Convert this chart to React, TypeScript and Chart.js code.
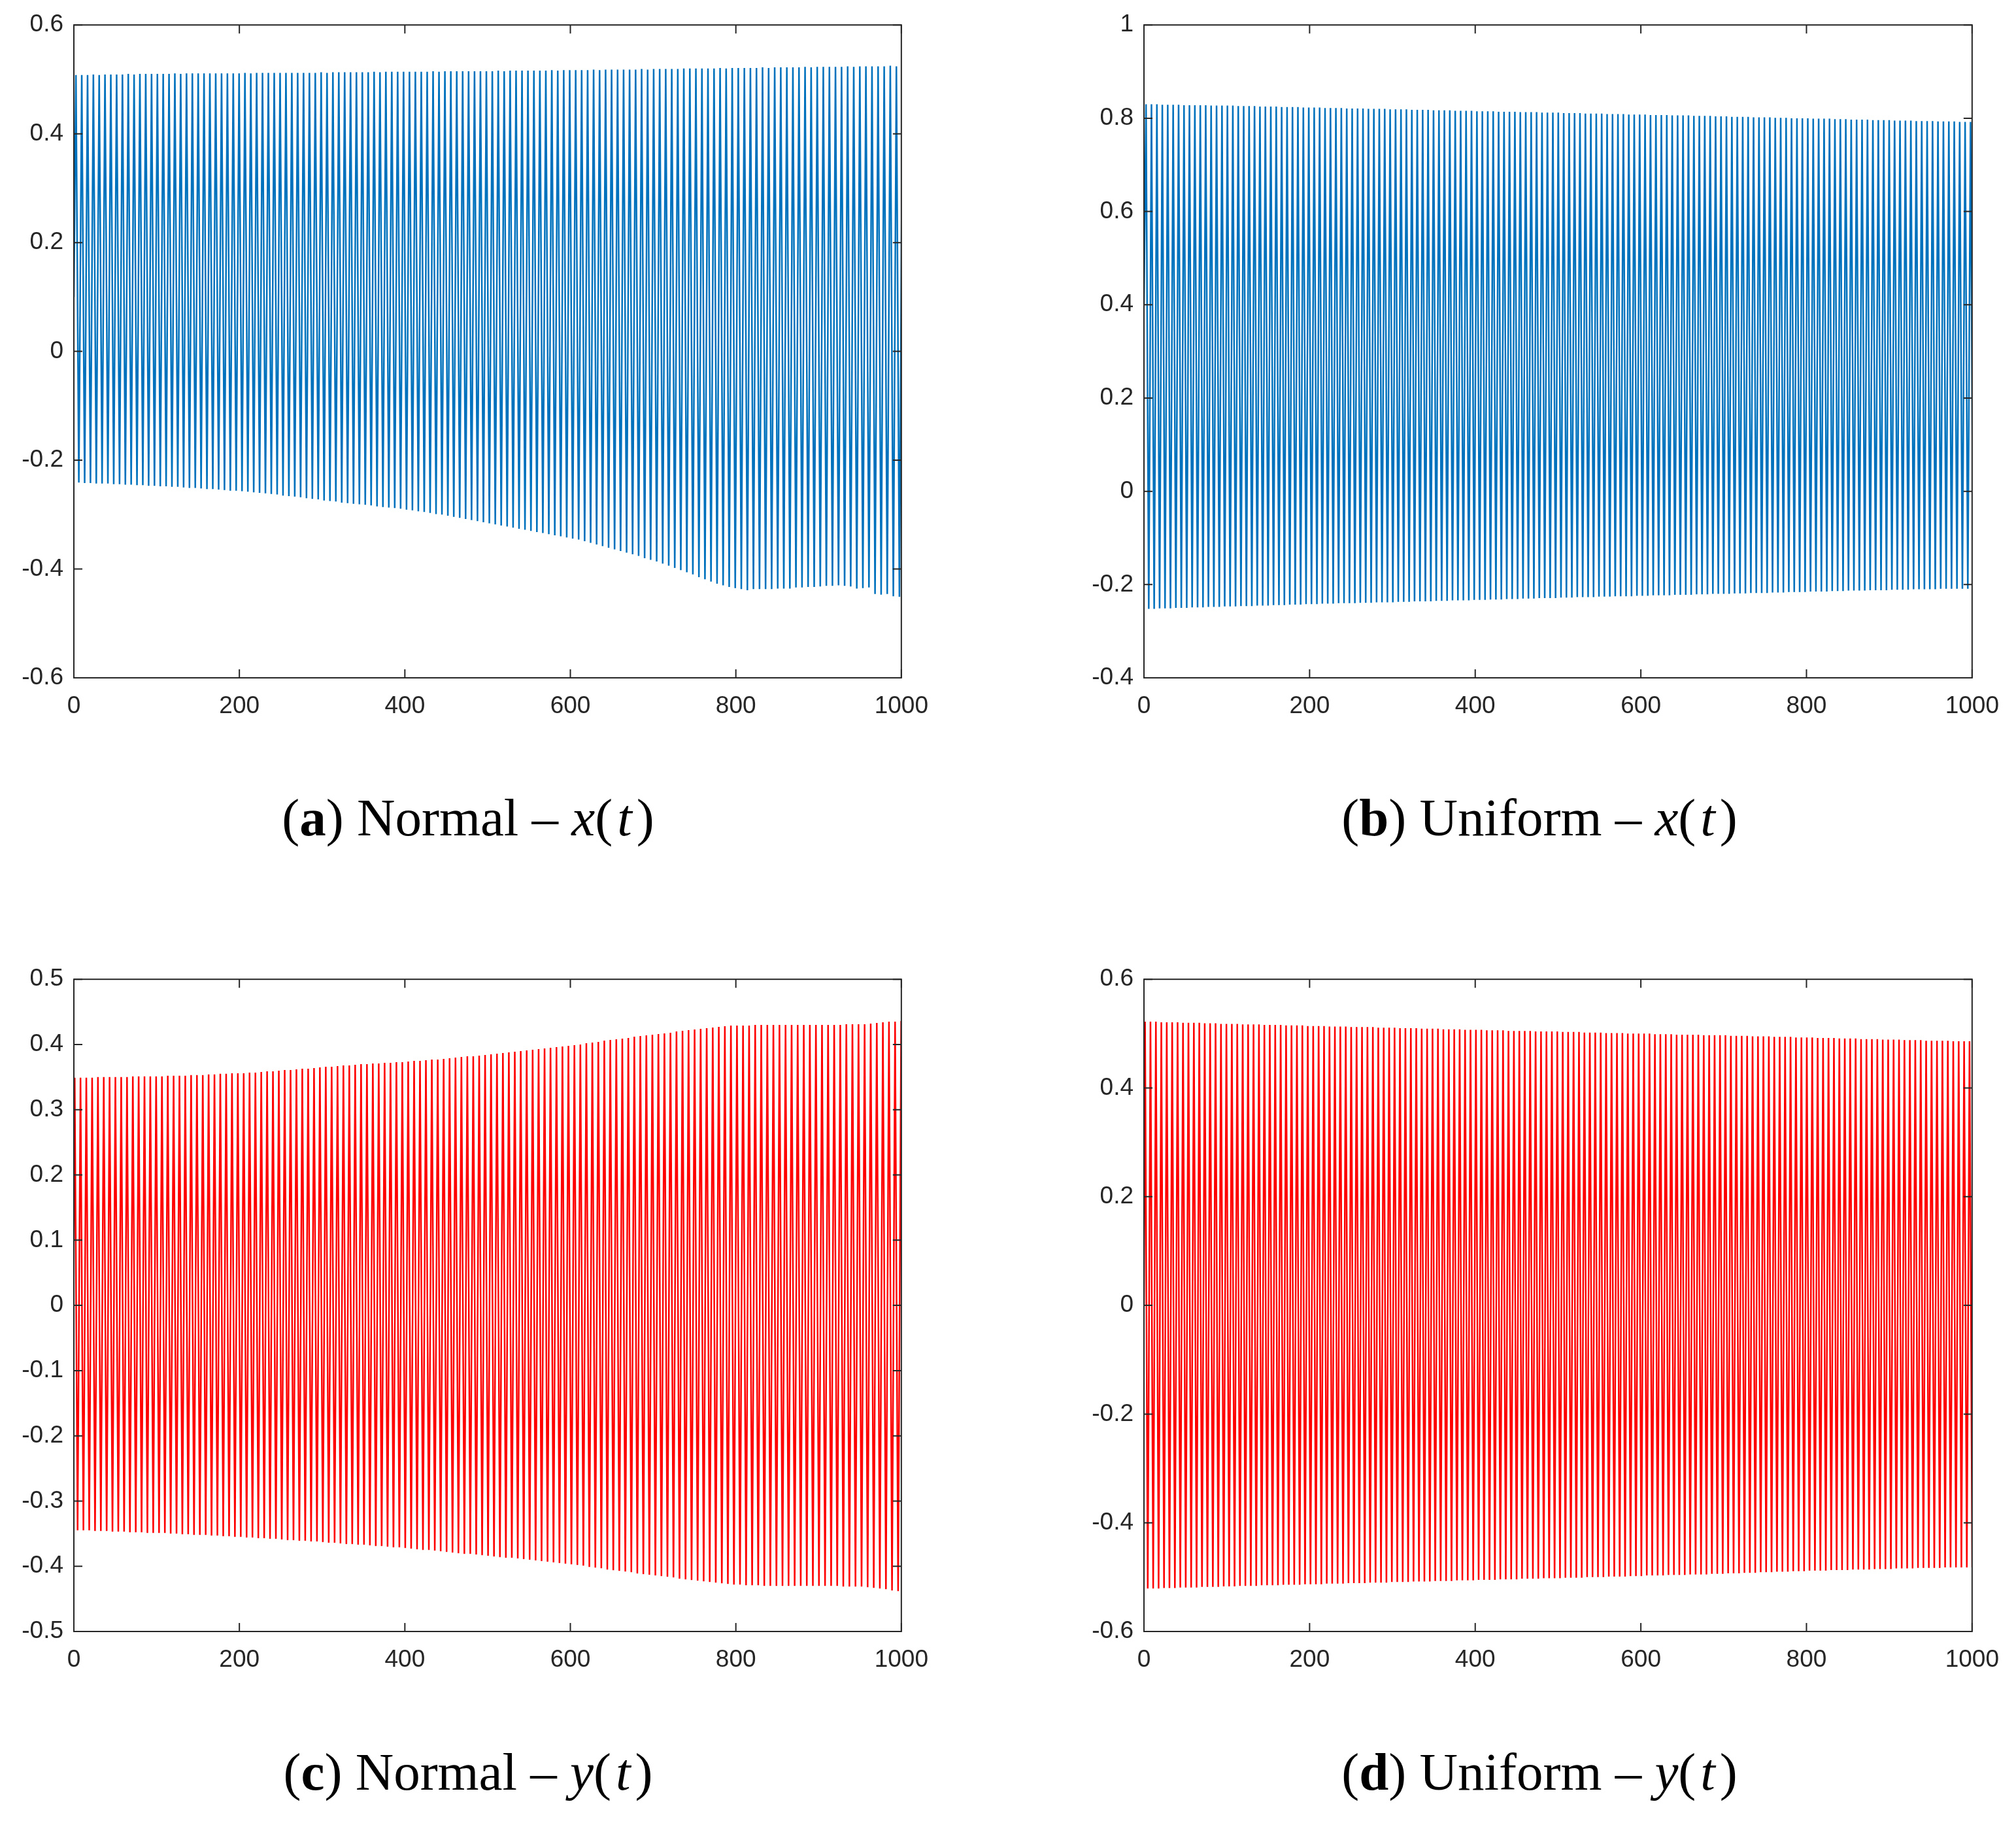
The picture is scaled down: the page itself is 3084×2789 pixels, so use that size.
import React, { useEffect, useRef } from "react";
import { Chart, registerables } from "chart.js";

Chart.register(...registerables);

// ---------------- data ----------------
// Tick values
const xTicks = [0, 200, 400, 600, 800, 1000];
const yTicksNormalX = [-0.6, -0.4, -0.2, 0, 0.2, 0.4, 0.6];
const yTicksUniformX = [-0.4, -0.2, 0, 0.2, 0.4, 0.6, 0.8, 1];
const yTicksNormalY = [-0.5, -0.4, -0.3, -0.2, -0.1, 0, 0.1, 0.2, 0.3, 0.4, 0.5];
const yTicksUniformY = [-0.6, -0.4, -0.2, 0, 0.2, 0.4, 0.6];

// Oscillation period (time units per cycle) read at t = 0,100,...,1000
const normalPeriodT = [0, 100, 200, 300, 400, 500, 600, 700, 800, 900, 1000];
const normalPeriodV = [7.02, 7.04, 7.07, 7.1, 7.13, 7.17, 7.22, 7.28, 7.33, 7.35, 7.37];
const uniformPeriodT = [0, 1000];
const uniformPeriodV = [6.55, 6.55];

// Start value and time of first maximum
const normalXStart = [0.1, 2.5];
const uniformXStart = [0.4, 2.5];
const normalYStart = [0.1, 1.0];
const uniformYStart = [0.0, 1.3];

// (a) Normal - x(t): per-cycle maxima and minima
const normalXPeaks = [
  0.508, 0.508, 0.508, 0.509, 0.508, 0.509, 0.509, 0.509, 0.509, 0.510,
  0.509, 0.510, 0.510, 0.510, 0.510, 0.510, 0.510, 0.511, 0.510, 0.511,
  0.511, 0.511, 0.511, 0.511, 0.511, 0.511, 0.511, 0.511, 0.511, 0.512,
  0.511, 0.512, 0.512, 0.512, 0.512, 0.512, 0.512, 0.512, 0.512, 0.512,
  0.512, 0.512, 0.513, 0.512, 0.513, 0.513, 0.513, 0.513, 0.513, 0.513,
  0.513, 0.514, 0.513, 0.514, 0.514, 0.514, 0.514, 0.514, 0.514, 0.514,
  0.514, 0.515, 0.514, 0.515, 0.515, 0.515, 0.515, 0.515, 0.515, 0.515,
  0.515, 0.515, 0.516, 0.515, 0.516, 0.516, 0.516, 0.516, 0.516, 0.516,
  0.516, 0.517, 0.516, 0.517, 0.517, 0.517, 0.517, 0.517, 0.518, 0.517,
  0.518, 0.518, 0.518, 0.518, 0.518, 0.518, 0.519, 0.518, 0.519, 0.519,
  0.519, 0.519, 0.519, 0.520, 0.520, 0.520, 0.520, 0.520, 0.520, 0.521,
  0.520, 0.521, 0.521, 0.521, 0.521, 0.521, 0.522, 0.521, 0.522, 0.522,
  0.522, 0.522, 0.522, 0.523, 0.522, 0.523, 0.523, 0.523, 0.523, 0.523,
  0.524, 0.523, 0.524, 0.524, 0.524, 0.524, 0.524, 0.525, 0.524, 0.525,
  0.525,
];
const normalXTroughs = [
  -0.241, -0.242, -0.242, -0.243, -0.243, -0.243, -0.244,
  -0.244, -0.245, -0.245, -0.246, -0.246, -0.247, -0.247,
  -0.248, -0.248, -0.249, -0.249, -0.250, -0.251, -0.251,
  -0.252, -0.253, -0.253, -0.254, -0.255, -0.256, -0.256,
  -0.257, -0.258, -0.259, -0.260, -0.261, -0.262, -0.263,
  -0.265, -0.266, -0.267, -0.268, -0.270, -0.271, -0.272,
  -0.274, -0.275, -0.276, -0.278, -0.279, -0.280, -0.281, -0.282,
  -0.283, -0.285, -0.286, -0.287, -0.288, -0.289, -0.291,
  -0.292, -0.294, -0.295, -0.297, -0.299, -0.300, -0.302,
  -0.304, -0.306, -0.308, -0.310, -0.312, -0.314, -0.316,
  -0.318, -0.320, -0.322, -0.324, -0.326, -0.328, -0.330,
  -0.332, -0.334, -0.336, -0.338, -0.340, -0.342, -0.344,
  -0.346, -0.349, -0.352, -0.355, -0.358, -0.361,
  -0.364, -0.367, -0.370, -0.373, -0.376, -0.380, -0.383,
  -0.386, -0.390, -0.394, -0.398, -0.402, -0.406, -0.410,
  -0.415, -0.419, -0.423, -0.427, -0.430, -0.433, -0.435,
  -0.437, -0.439, -0.437, -0.437, -0.437, -0.437, -0.436,
  -0.436, -0.436, -0.434, -0.434, -0.433, -0.433, -0.432,
  -0.431, -0.431, -0.430, -0.431, -0.432, -0.436, -0.435,
  -0.434, -0.446, -0.447, -0.446, -0.450, -0.451, -0.456,
  -0.458,
];

// (b) Uniform - x(t)
const uniformXPeaks = [
  0.830, 0.830, 0.830, 0.829, 0.829, 0.829, 0.829, 0.828, 0.828, 0.828,
  0.828, 0.828, 0.827, 0.827, 0.827, 0.827, 0.827, 0.826, 0.826, 0.826,
  0.826, 0.825, 0.825, 0.825, 0.825, 0.824, 0.824, 0.824, 0.824, 0.823,
  0.823, 0.823, 0.823, 0.822, 0.822, 0.822, 0.822, 0.821, 0.821, 0.821,
  0.821, 0.820, 0.820, 0.820, 0.820, 0.819, 0.819, 0.819, 0.819, 0.818,
  0.818, 0.818, 0.818, 0.817, 0.817, 0.817, 0.817, 0.816, 0.816, 0.816,
  0.816, 0.815, 0.815, 0.815, 0.815, 0.814, 0.814, 0.814, 0.814, 0.813,
  0.813, 0.813, 0.813, 0.812, 0.812, 0.812, 0.812, 0.811, 0.811, 0.811,
  0.811, 0.810, 0.810, 0.810, 0.810, 0.809, 0.809, 0.809, 0.809, 0.808,
  0.808, 0.808, 0.808, 0.807, 0.807, 0.807, 0.807, 0.806, 0.806, 0.806,
  0.806, 0.805, 0.805, 0.805, 0.805, 0.804, 0.804, 0.804, 0.803, 0.803,
  0.803, 0.803, 0.802, 0.802, 0.802, 0.802, 0.801, 0.801, 0.801, 0.800,
  0.800, 0.800, 0.800, 0.799, 0.799, 0.799, 0.799, 0.798, 0.798, 0.798,
  0.797, 0.797, 0.797, 0.797, 0.796, 0.796, 0.796, 0.796, 0.795, 0.795,
  0.795, 0.795, 0.794, 0.794, 0.794, 0.794, 0.793, 0.793, 0.793, 0.793,
  0.792, 0.792, 0.792, 0.792,
];
const uniformXTroughs = [
  -0.252, -0.252, -0.251, -0.251, -0.251, -0.250, -0.250, -0.250, -0.249, -0.249,
  -0.249, -0.248, -0.248, -0.248, -0.247, -0.247, -0.247, -0.246, -0.246, -0.246,
  -0.245, -0.245, -0.245, -0.244, -0.244, -0.244, -0.243, -0.243, -0.243, -0.242,
  -0.242, -0.242, -0.241, -0.241, -0.241, -0.240, -0.240, -0.240, -0.240, -0.239,
  -0.239, -0.239, -0.238, -0.238, -0.238, -0.238, -0.237, -0.237, -0.237, -0.236,
  -0.236, -0.236, -0.236, -0.235, -0.235, -0.235, -0.234, -0.234, -0.234, -0.234,
  -0.233, -0.233, -0.233, -0.232, -0.232, -0.232, -0.231, -0.231, -0.231, -0.230,
  -0.230, -0.230, -0.229, -0.229, -0.229, -0.229, -0.228, -0.228, -0.228, -0.227,
  -0.227, -0.227, -0.227, -0.226, -0.226, -0.226, -0.225, -0.225, -0.225, -0.225,
  -0.224, -0.224, -0.224, -0.223, -0.223, -0.223, -0.223, -0.222, -0.222, -0.222,
  -0.222, -0.221, -0.221, -0.221, -0.220, -0.220, -0.220, -0.220, -0.219, -0.219,
  -0.219, -0.218, -0.218, -0.218, -0.218, -0.217, -0.217, -0.217, -0.216, -0.216,
  -0.216, -0.216, -0.215, -0.215, -0.215, -0.215, -0.214, -0.214, -0.214, -0.213,
  -0.213, -0.213, -0.213, -0.212, -0.212, -0.212, -0.212, -0.211, -0.211, -0.211,
  -0.211, -0.210, -0.210, -0.210, -0.210, -0.210, -0.209, -0.209, -0.209, -0.209,
  -0.209, -0.209, -0.209, -0.209,
];

// (c) Normal - y(t)
const normalYPeaks = [
  0.349, 0.349, 0.349, 0.349, 0.350, 0.350, 0.350,
  0.350, 0.350, 0.350, 0.351, 0.351, 0.351, 0.351,
  0.351, 0.351, 0.352, 0.352, 0.352, 0.352, 0.353,
  0.353, 0.353, 0.354, 0.354, 0.355, 0.355, 0.356,
  0.356, 0.356, 0.357, 0.357, 0.358, 0.359, 0.359,
  0.360, 0.361, 0.361, 0.362, 0.363, 0.363, 0.364,
  0.365, 0.366, 0.366, 0.367, 0.368, 0.368, 0.369, 0.370,
  0.370, 0.371, 0.371, 0.372, 0.372, 0.373, 0.373,
  0.374, 0.375, 0.375, 0.376, 0.377, 0.377, 0.378,
  0.379, 0.380, 0.381, 0.382, 0.382, 0.383, 0.384,
  0.385, 0.386, 0.387, 0.388, 0.389, 0.390, 0.391,
  0.392, 0.393, 0.394, 0.395, 0.396, 0.397, 0.398,
  0.399, 0.400, 0.402, 0.403, 0.404, 0.406,
  0.407, 0.408, 0.409, 0.410, 0.412, 0.413, 0.414,
  0.415, 0.416, 0.417, 0.418, 0.420, 0.421, 0.422,
  0.423, 0.424, 0.425, 0.426, 0.427, 0.428, 0.429,
  0.429, 0.429, 0.429, 0.430, 0.430, 0.430, 0.430,
  0.430, 0.430, 0.430, 0.430, 0.430, 0.430, 0.430,
  0.430, 0.430, 0.430, 0.430, 0.431, 0.431, 0.431,
  0.431, 0.432, 0.433, 0.434, 0.435, 0.435, 0.436, 0.437,
];
const normalYTroughs = [
  -0.345, -0.345, -0.345, -0.346, -0.346, -0.346, -0.347,
  -0.347, -0.347, -0.348, -0.348, -0.348, -0.349, -0.349,
  -0.349, -0.349, -0.350, -0.350, -0.351, -0.351, -0.352,
  -0.352, -0.352, -0.353, -0.353, -0.354, -0.354, -0.355,
  -0.355, -0.356, -0.356, -0.357, -0.357, -0.358, -0.358,
  -0.359, -0.360, -0.360, -0.361, -0.361, -0.362, -0.362,
  -0.363, -0.364, -0.364, -0.365, -0.366, -0.366, -0.367, -0.367,
  -0.368, -0.369, -0.369, -0.370, -0.371, -0.371, -0.372,
  -0.373, -0.374, -0.375, -0.375, -0.376, -0.377, -0.378,
  -0.379, -0.380, -0.381, -0.381, -0.382, -0.383, -0.384,
  -0.385, -0.386, -0.387, -0.387, -0.388, -0.389, -0.390,
  -0.391, -0.392, -0.393, -0.394, -0.395, -0.396, -0.397,
  -0.398, -0.399, -0.401, -0.402, -0.403, -0.405,
  -0.406, -0.407, -0.408, -0.409, -0.411, -0.412, -0.413,
  -0.414, -0.415, -0.416, -0.417, -0.419, -0.420, -0.421,
  -0.422, -0.423, -0.424, -0.425, -0.426, -0.427, -0.428,
  -0.428, -0.429, -0.429, -0.429, -0.430, -0.430, -0.430,
  -0.430, -0.430, -0.430, -0.430, -0.430, -0.430, -0.430,
  -0.430, -0.430, -0.430, -0.431, -0.431, -0.431, -0.431,
  -0.432, -0.433, -0.434, -0.435, -0.437, -0.438, -0.440, -0.441,
];

// (d) Uniform - y(t)
const uniformYPeaks = [
  0.522, 0.522, 0.522, 0.521, 0.521, 0.521, 0.521, 0.520, 0.520, 0.520,
  0.520, 0.519, 0.519, 0.519, 0.518, 0.518, 0.518, 0.518, 0.517, 0.517,
  0.517, 0.517, 0.516, 0.516, 0.516, 0.516, 0.515, 0.515, 0.515, 0.515,
  0.514, 0.514, 0.514, 0.514, 0.513, 0.513, 0.513, 0.513, 0.512, 0.512,
  0.512, 0.512, 0.512, 0.511, 0.511, 0.511, 0.511, 0.510, 0.510, 0.510,
  0.510, 0.509, 0.509, 0.509, 0.509, 0.508, 0.508, 0.508, 0.508, 0.507,
  0.507, 0.507, 0.507, 0.506, 0.506, 0.506, 0.506, 0.505, 0.505, 0.505,
  0.505, 0.505, 0.504, 0.504, 0.504, 0.504, 0.504, 0.503, 0.503, 0.503,
  0.503, 0.502, 0.502, 0.502, 0.502, 0.501, 0.501, 0.501, 0.501, 0.500,
  0.500, 0.500, 0.500, 0.500, 0.499, 0.499, 0.499, 0.499, 0.498, 0.498,
  0.498, 0.498, 0.498, 0.497, 0.497, 0.497, 0.497, 0.497, 0.496, 0.496,
  0.496, 0.496, 0.495, 0.495, 0.495, 0.495, 0.494, 0.494, 0.494, 0.494,
  0.493, 0.493, 0.493, 0.493, 0.492, 0.492, 0.492, 0.492, 0.491, 0.491,
  0.491, 0.491, 0.490, 0.490, 0.490, 0.490, 0.489, 0.489, 0.489, 0.489,
  0.488, 0.488, 0.488, 0.488, 0.487, 0.487, 0.487, 0.487, 0.487, 0.486,
  0.486, 0.486, 0.486, 0.486,
];
const uniformYTroughs = [
  -0.521, -0.521, -0.521, -0.520, -0.520, -0.520, -0.519, -0.519, -0.519, -0.519,
  -0.518, -0.518, -0.518, -0.518, -0.517, -0.517, -0.517, -0.516, -0.516, -0.516,
  -0.516, -0.515, -0.515, -0.515, -0.515, -0.514, -0.514, -0.514, -0.514, -0.513,
  -0.513, -0.513, -0.513, -0.512, -0.512, -0.512, -0.512, -0.511, -0.511, -0.511,
  -0.511, -0.510, -0.510, -0.510, -0.510, -0.509, -0.509, -0.509, -0.509, -0.508,
  -0.508, -0.508, -0.508, -0.507, -0.507, -0.507, -0.507, -0.506, -0.506, -0.506,
  -0.506, -0.505, -0.505, -0.505, -0.505, -0.504, -0.504, -0.504, -0.504, -0.503,
  -0.503, -0.503, -0.503, -0.502, -0.502, -0.502, -0.502, -0.501, -0.501, -0.501,
  -0.501, -0.500, -0.500, -0.500, -0.500, -0.499, -0.499, -0.499, -0.499, -0.498,
  -0.498, -0.498, -0.497, -0.497, -0.497, -0.497, -0.496, -0.496, -0.496, -0.496,
  -0.495, -0.495, -0.495, -0.495, -0.494, -0.494, -0.494, -0.493, -0.493, -0.493,
  -0.492, -0.492, -0.492, -0.491, -0.491, -0.491, -0.490, -0.490, -0.490, -0.489,
  -0.489, -0.489, -0.488, -0.488, -0.488, -0.488, -0.487, -0.487, -0.487, -0.487,
  -0.486, -0.486, -0.486, -0.486, -0.485, -0.485, -0.485, -0.485, -0.484, -0.484,
  -0.484, -0.484, -0.483, -0.483, -0.483, -0.483, -0.483, -0.482, -0.482, -0.482,
  -0.482, -0.482, -0.482, -0.482,
];

// ---------------- building the series ----------------
function periodAt(t: number, kt: number[], kv: number[]): number {
  if (t <= kt[0]) return kv[0];
  for (let i = 1; i < kt.length; i++) {
    if (t <= kt[i]) {
      const f = (t - kt[i - 1]) / (kt[i] - kt[i - 1]);
      return kv[i - 1] + f * (kv[i] - kv[i - 1]);
    }
  }
  return kv[kv.length - 1];
}

function buildSeries(
  start: number[],
  peaks: number[],
  troughs: number[],
  kt: number[],
  kv: number[]
) {
  const pts: { x: number; y: number }[] = [{ x: 0, y: start[0] }];
  let t = start[1];
  const n = Math.min(peaks.length, troughs.length);
  for (let i = 0; i < n; i++) {
    const p = periodAt(t, kt, kv);
    pts.push({ x: t, y: peaks[i] });
    pts.push({ x: t + p / 2, y: troughs[i] });
    t += p;
  }
  return pts;
}

const BLUE = "#0072BD";
const RED = "#FF0000";
const AXIS = "#262626";

const framePlugin = {
  id: "matlabFrame",
  afterDraw(chart: any) {
    const { ctx, chartArea: a, scales } = chart;
    const L = 13;
    ctx.save();
    ctx.strokeStyle = AXIS;
    ctx.lineWidth = 2;
    ctx.beginPath();
    scales.x.ticks.forEach((tk: any) => {
      const px = scales.x.getPixelForValue(tk.value);
      ctx.moveTo(px, a.bottom);
      ctx.lineTo(px, a.bottom - L);
      ctx.moveTo(px, a.top);
      ctx.lineTo(px, a.top + L);
    });
    scales.y.ticks.forEach((tk: any) => {
      const py = scales.y.getPixelForValue(tk.value);
      ctx.moveTo(a.left, py);
      ctx.lineTo(a.left + L, py);
      ctx.moveTo(a.right, py);
      ctx.lineTo(a.right - L, py);
    });
    ctx.stroke();
    ctx.strokeRect(a.left, a.top, a.right - a.left, a.bottom - a.top);
    ctx.restore();
  },
};

type PanelDef = {
  left: number;
  top: number;
  width: number;
  height: number;
  yTicks: number[];
  color: string;
  data: { x: number; y: number }[];
};

const Y_AXIS_W = 113;
const X_AXIS_H = 80;
const PAD_TOP = 34;
const PAD_RIGHT = 60;

function fmt(v: number): string {
  const r = Math.round(v * 10) / 10;
  return String(r === 0 ? 0 : r);
}

function Panel({ def }: { def: PanelDef }) {
  const ref = useRef<HTMLCanvasElement | null>(null);
  useEffect(() => {
    if (!ref.current) return;
    const yMin = def.yTicks[0];
    const yMax = def.yTicks[def.yTicks.length - 1];
    const chart = new Chart(ref.current, {
      type: "line",
      data: {
        datasets: [
          {
            data: def.data,
            borderColor: def.color,
            borderWidth: 2.5,
            pointRadius: 0,
            tension: 0,
            fill: false,
            clip: 0,
          } as any,
        ],
      },
      options: {
        animation: false,
        responsive: false,
        devicePixelRatio: 1,
        events: [],
        layout: { padding: { top: PAD_TOP, right: PAD_RIGHT, left: 0, bottom: 0 } },
        plugins: { legend: { display: false }, tooltip: { enabled: false } },
        scales: {
          x: {
            type: "linear",
            min: xTicks[0],
            max: xTicks[xTicks.length - 1],
            grid: { display: false, drawTicks: false },
            border: { display: false },
            afterBuildTicks: (s: any) => {
              s.ticks = xTicks.map((v) => ({ value: v }));
            },
            afterFit: (s: any) => {
              s.height = X_AXIS_H;
            },
            ticks: {
              autoSkip: false,
              maxRotation: 0,
              padding: 22,
              color: AXIS,
              font: { family: '"Liberation Sans", Arial, sans-serif', size: 37 },
              callback: (v: any) => String(v),
            },
          },
          y: {
            type: "linear",
            min: yMin,
            max: yMax,
            grid: { display: false, drawTicks: false },
            border: { display: false },
            afterBuildTicks: (s: any) => {
              s.ticks = def.yTicks.map((v) => ({ value: v }));
            },
            afterFit: (s: any) => {
              s.width = Y_AXIS_W;
            },
            ticks: {
              autoSkip: false,
              padding: 16,
              color: AXIS,
              font: { family: '"Liberation Sans", Arial, sans-serif', size: 37 },
              callback: (v: any) => fmt(Number(v)),
            },
          },
        },
      },
      plugins: [framePlugin],
    } as any);
    return () => chart.destroy();
  }, [def]);
  return (
    <canvas
      ref={ref}
      width={def.width}
      height={def.height}
      style={{
        position: "absolute",
        left: def.left,
        top: def.top,
        width: def.width,
        height: def.height,
      }}
    />
  );
}

const panels: PanelDef[] = [
  {
    left: 0,
    top: 0,
    width: Y_AXIS_W + 1269 + PAD_RIGHT,
    height: 1037 + X_AXIS_H,
    yTicks: yTicksNormalX,
    color: BLUE,
    data: buildSeries(normalXStart, normalXPeaks, normalXTroughs, normalPeriodT, normalPeriodV),
  },
  {
    left: 1637,
    top: 0,
    width: Y_AXIS_W + 1270 + PAD_RIGHT,
    height: 1037 + X_AXIS_H,
    yTicks: yTicksUniformX,
    color: BLUE,
    data: buildSeries(uniformXStart, uniformXPeaks, uniformXTroughs, uniformPeriodT, uniformPeriodV),
  },
  {
    left: 0,
    top: 1460,
    width: Y_AXIS_W + 1269 + PAD_RIGHT,
    height: 2496 - 1460 + X_AXIS_H,
    yTicks: yTicksNormalY,
    color: RED,
    data: buildSeries(normalYStart, normalYPeaks, normalYTroughs, normalPeriodT, normalPeriodV),
  },
  {
    left: 1637,
    top: 1460,
    width: Y_AXIS_W + 1270 + PAD_RIGHT,
    height: 2496 - 1460 + X_AXIS_H,
    yTicks: yTicksUniformY,
    color: RED,
    data: buildSeries(uniformYStart, uniformYPeaks, uniformYTroughs, uniformPeriodT, uniformPeriodV),
  },
];

const captions = [
  { letter: "a", label: "Normal", v: "x", cx: 716, top: 1211 },
  { letter: "b", label: "Uniform", v: "x", cx: 2355, top: 1211 },
  { letter: "c", label: "Normal", v: "y", cx: 716, top: 2671 },
  { letter: "d", label: "Uniform", v: "y", cx: 2355, top: 2671 },
];

export default function App() {
  return (
    <div
      style={{
        position: "absolute",
        left: 0,
        top: 0,
        width: 3084,
        height: 2789,
        background: "#ffffff",
        overflow: "hidden",
      }}
    >
      {panels.map((p, i) => (
        <Panel key={i} def={p} />
      ))}
      {captions.map((c, i) => (
        <div
          key={"c" + i}
          style={{
            position: "absolute",
            left: c.cx - 500,
            width: 1000,
            top: c.top,
            textAlign: "center",
            fontFamily: '"Liberation Serif", "DejaVu Serif", serif',
            fontSize: 81,
            lineHeight: "81px",
            color: "#000",
            whiteSpace: "nowrap",
          }}
        >
          (<b>{c.letter}</b>) {c.label} – <i>{c.v}</i>(
          <i style={{ margin: "0 7px" }}>t</i>)
        </div>
      ))}
    </div>
  );
}
